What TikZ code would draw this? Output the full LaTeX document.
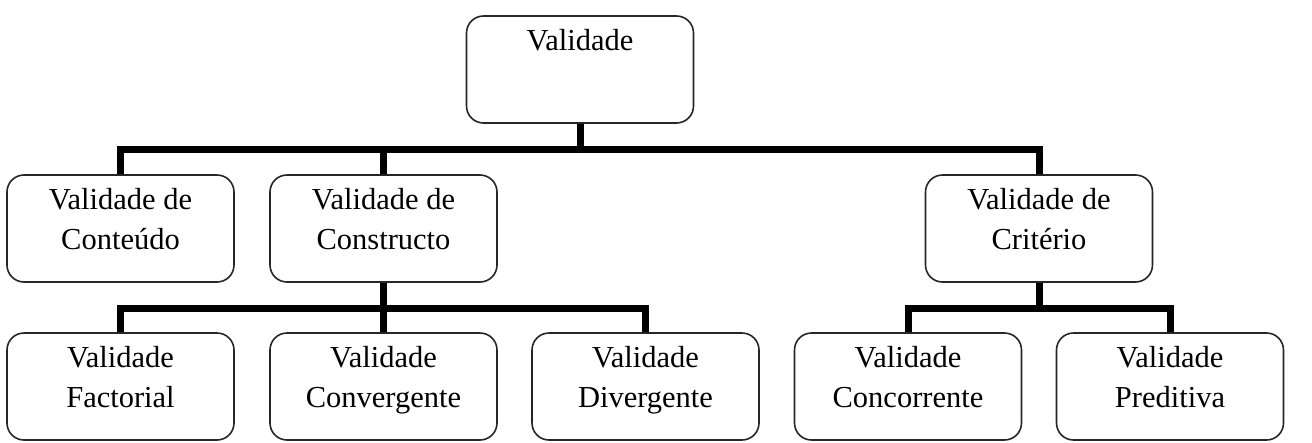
\documentclass[tikz,border=0pt]{standalone}
\usepackage{fontspec}
\setmainfont{Liberation Serif}
\usetikzlibrary{calc}
\tikzset{
  box/.style={draw=black!85, line width=1.6pt, rounded corners=17pt, minimum width=227pt, minimum height=107pt, inner sep=0pt},
  lbl/.style={font=\fontsize{30.5}{40}\selectfont, align=center, inner sep=0pt, anchor=base},
  conn/.style={line width=7pt, line join=miter}
}
\begin{document}
\begin{tikzpicture}[x=1pt,y=-1pt]
\useasboundingbox (0,0) rectangle (1312,442);
% boxes
\node[box] (top) at (580,69.5) {};
\node[box] (b1) at (120.5,228.5) {};
\node[box] (b2) at (383.5,228.5) {};
\node[box] (b3) at (1039,228.5) {};
\node[box] (c1) at (120.5,386.5) {};
\node[box] (c2) at (383.5,386.5) {};
\node[box] (c3) at (645.5,386.5) {};
\node[box] (c4) at (908,386.5) {};
\node[box] (c5) at (1170,386.5) {};
% labels (base anchor = last line's baseline)
\node[lbl] (ttop) at ($(top.north)+(0,35)$) {Validade};
\node[lbl] (tb1) at ($(b1.north)+(0,75)$) {Validade de\\Conteúdo};
\node[lbl] (tb2) at ($(b2.north)+(0,75)$) {Validade de\\Constructo};
\node[lbl] (tb3) at ($(b3.north)+(0,75)$) {Validade de\\Critério};
\node[lbl] (tc1) at ($(c1.north)+(0,75)$) {Validade\\Factorial};
\node[lbl] (tc2) at ($(c2.north)+(0,75)$) {Validade\\Convergente};
\node[lbl] (tc3) at ($(c3.north)+(0,75)$) {Validade\\Divergente};
\node[lbl] (tc4) at ($(c4.north)+(0,75)$) {Validade\\Concorrente};
\node[lbl] (tc5) at ($(c5.north)+(0,75)$) {Validade\\Preditiva};
% junctions
\coordinate (j1) at (580,149);
\coordinate (j2) at (383.5,308);
\coordinate (j3) at (1039,308);
% connectors
\draw[conn] (top.south) -- (j1);
\draw[conn] (b1.north) |- (j1) -| (b3.north);
\draw[conn] (j1 -| b2.north) -- (b2.north);
\draw[conn] (b2.south) -- (j2);
\draw[conn] (c1.north) |- (j2) -| (c3.north);
\draw[conn] (j2) -- (c2.north);
\draw[conn] (b3.south) -- (j3);
\draw[conn] (c4.north) |- (j3) -| (c5.north);
\end{tikzpicture}
\end{document}
